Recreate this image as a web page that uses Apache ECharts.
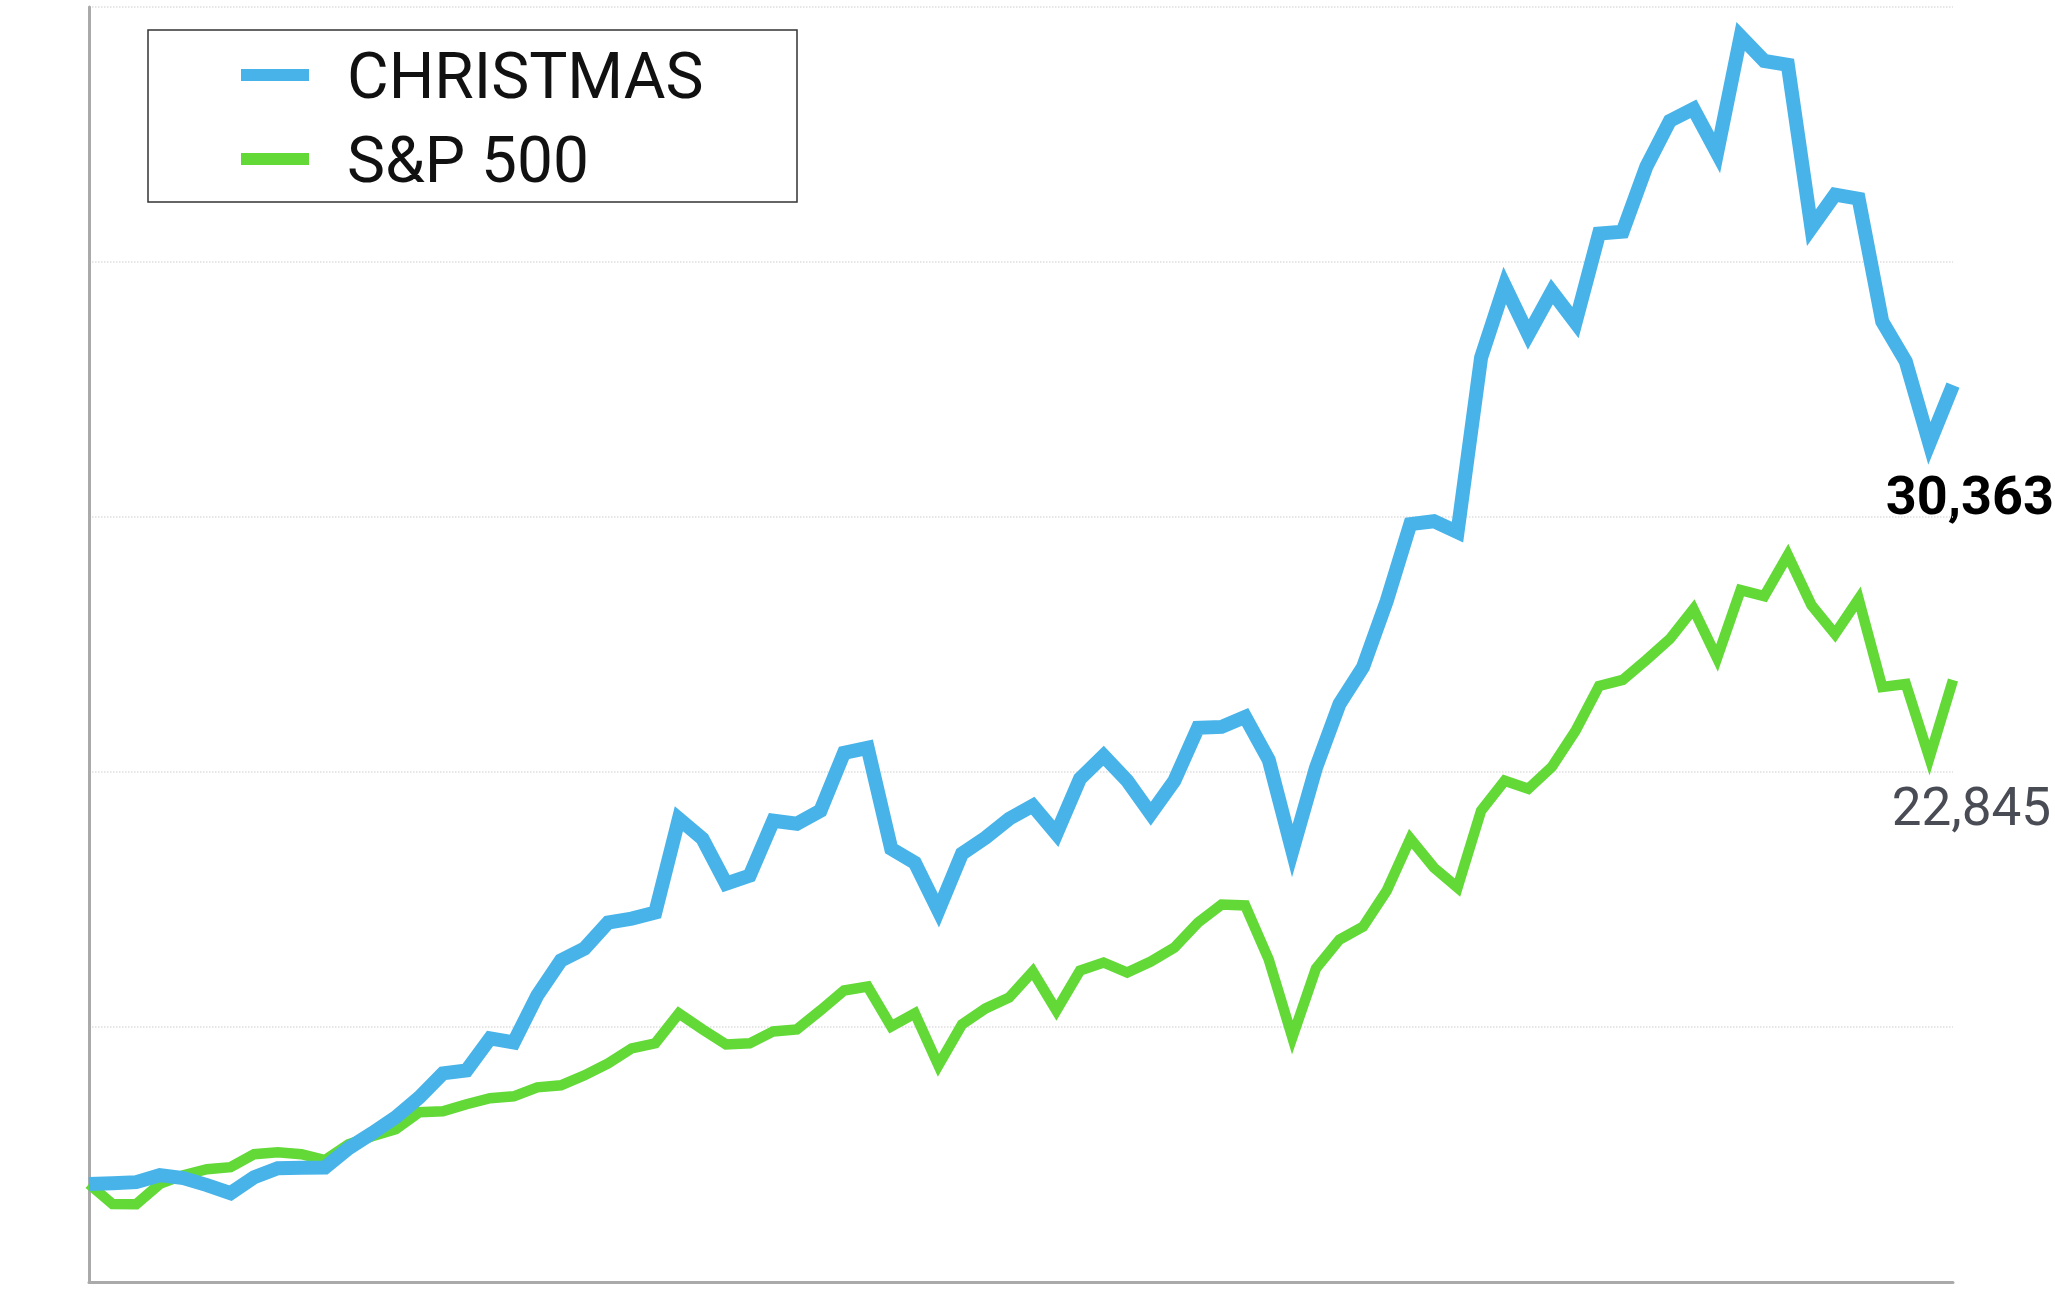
<!DOCTYPE html>
<html>
<head>
<meta charset="utf-8">
<script src="https://cdn.jsdelivr.net/npm/echarts@6/dist/echarts.min.js"></script>
<style>
  html, body { margin: 0; padding: 0; background: #ffffff; }
  #chart { width: 2055px; height: 1297px; }
</style>
</head>
<body>
<div id="chart"></div>
<script>
// ---- data ----
const categories = Array.from({ length: 80 }, (_, i) => 'P' + (i + 1));

const christmas = [
  10000, 10020, 10045, 10223, 10147, 9969, 9765, 10172, 10400, 10410,
  10420, 10910, 11292, 11699, 12208, 12819, 12895, 13710, 13608, 14804,
  15695, 16000, 16662, 16764, 16917, 19309, 18800, 17655, 17858, 19258,
  19182, 19512, 20989, 21116, 18545, 18189, 16967, 18418, 18825, 19309,
  19640, 18927, 20327, 20912, 20276, 19436, 20276, 21625, 21650, 21905,
  20810, 18494, 20607, 22236, 23177, 24857, 26817, 26893, 26613, 31067,
  32900, 31652, 32746, 31957, 34223, 34273, 35928, 37098, 37404, 36284,
  39250, 38625, 38524, 34375, 35215, 35113, 31983, 30965, 28878, 30363
];

const sp500 = [
  10000, 9485, 9480, 10000, 10223, 10376, 10427, 10758, 10809, 10758,
  10605, 11012, 11216, 11394, 11827, 11852, 12030, 12183, 12234, 12463,
  12514, 12768, 13074, 13455, 13583, 14346, 13939, 13557, 13583, 13888,
  13939, 14422, 14931, 15033, 14015, 14346, 13023, 14066, 14473, 14753,
  15415, 14422, 15440, 15644, 15390, 15669, 16026, 16662, 17120, 17100,
  15720, 13735, 15491, 16229, 16560, 17476, 18800, 18062, 17553, 19512,
  20276, 20072, 20632, 21548, 22694, 22846, 23355, 23890, 24653, 23406,
  25137, 24984, 26028, 24755, 24017, 24908, 22668, 22745, 20861, 22845
];

const seriesNames = ['CHRISTMAS', 'S&P 500'];
const yMin = 7500, yMax = 40000, yInterval = 6500;

const fmt = v => v.toLocaleString('en-US');

const chart = echarts.init(document.getElementById('chart'), null, { renderer: 'canvas' });

chart.setOption({
  animation: false,
  backgroundColor: '#ffffff',
  grid: { left: 89, right: 102, top: 7, bottom: 15, containLabel: false },
  xAxis: {
    type: 'category',
    data: categories,
    boundaryGap: false,
    axisLine: { show: true, lineStyle: { color: '#aaaaaa', width: 3 } },
    axisTick: { show: false },
    axisLabel: { show: false },
    splitLine: { show: false }
  },
  yAxis: {
    type: 'value',
    min: yMin,
    max: yMax,
    interval: yInterval,
    axisLine: { show: true, lineStyle: { color: '#aaaaaa', width: 3 } },
    axisTick: { show: false },
    axisLabel: { show: false },
    splitLine: { show: true, lineStyle: { color: '#dedede', width: 1.5, type: 'dotted' } }
  },
  legend: {
    orient: 'vertical',
    left: 241,
    top: 33,
    padding: 0,
    itemGap: 3,
    itemWidth: 68,
    itemHeight: 12,
    icon: 'rect',
    data: seriesNames,
    formatter: name => '{gap|}\n{t|' + name + '}',
    textStyle: {
      color: '#111111',
      padding: [0, 0, 0, 33],
      rich: {
        gap: { fontSize: 1, lineHeight: 14, height: 14 },
        t: {
          fontFamily: 'Roboto, "Noto Sans", sans-serif',
          fontWeight: 400,
          fontSize: 64,
          lineHeight: 70,
          color: '#111111'
        }
      }
    }
  },
  graphic: [
    {
      type: 'rect',
      shape: { x: 148, y: 30, width: 649, height: 172 },
      style: { fill: 'none', stroke: '#333333', lineWidth: 1.5 },
      silent: true
    },
    {
      type: 'text',
      style: {
        text: fmt(christmas[christmas.length - 1]),
        x: 2054, y: 500,
        align: 'right', verticalAlign: 'middle',
        font: 'bold 54px Roboto, "Noto Sans", sans-serif',
        fill: '#000000'
      }
    },
    {
      type: 'text',
      style: {
        text: fmt(sp500[sp500.length - 1]),
        x: 2051, y: 812,
        align: 'right', verticalAlign: 'middle',
        font: '400 53px Roboto, "Noto Sans", sans-serif',
        fill: '#4a4c55'
      }
    }
  ],
  series: [
    {
      name: seriesNames[0],
      type: 'line',
      data: christmas,
      z: 3,
      symbol: 'none',
      showSymbol: false,
      itemStyle: { color: '#47b3e9' },
      lineStyle: { color: '#47b3e9', width: 14, join: 'miter', miterLimit: 10, cap: 'butt' }
    },
    {
      name: seriesNames[1],
      type: 'line',
      data: sp500,
      z: 2,
      symbol: 'none',
      showSymbol: false,
      itemStyle: { color: '#63d938' },
      lineStyle: { color: '#63d938', width: 10.5, join: 'miter', miterLimit: 10, cap: 'butt' }
    }
  ]
});
</script>
</body>
</html>
